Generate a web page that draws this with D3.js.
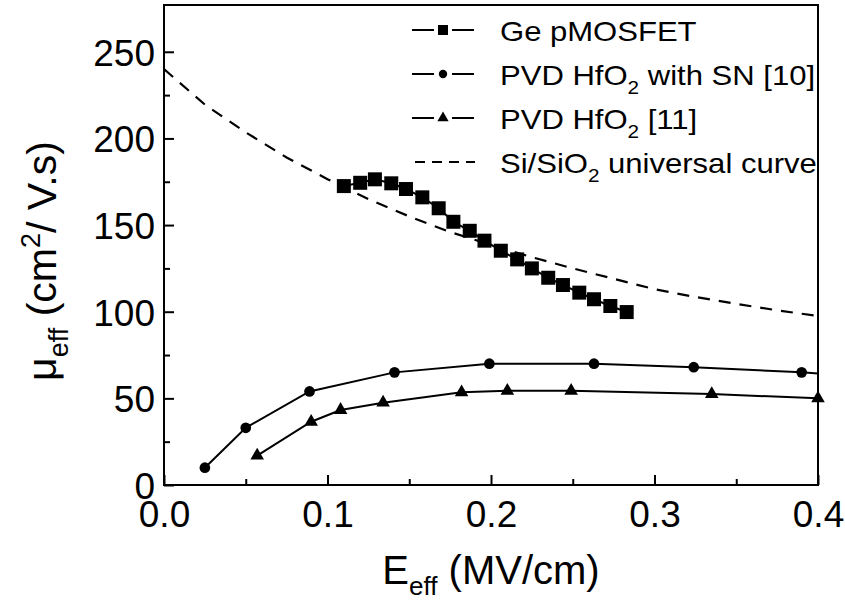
<!DOCTYPE html>
<html>
<head>
<meta charset="UTF-8">
<title>Mobility vs effective field</title>
<script src="https://d3js.org/d3.v7.min.js"></script>
<style>
  body { margin: 0; background: #fff; }
  text { font-family: "Liberation Sans", Arial, sans-serif; fill: #000; }
</style>
</head>
<body>
<div id="chart"></div>
<script>
// data (E_eff in MV/cm, mobility in cm2/V.s)
var geX = [0.110, 0.120, 0.129, 0.139, 0.148, 0.158, 0.168, 0.177, 0.187, 0.196,
           0.206, 0.216, 0.225, 0.235, 0.244, 0.254, 0.263, 0.273, 0.283];
var geY = [172.5, 174.4, 176.4, 174.1, 170.8, 166.0, 159.7, 151.9, 146.7, 141.0,
           135.2, 130.2, 125.0, 119.6, 115.4, 111.0, 107.2, 103.3, 99.8];

var snX = [0.025, 0.050, 0.089, 0.141, 0.199, 0.263, 0.324, 0.390, 0.45];
var snY = [10, 33, 54, 65, 70, 70, 68, 65, 61];

var pvdX = [0.057, 0.090, 0.108, 0.134, 0.182, 0.210, 0.249, 0.335, 0.400];
var pvdY = [17, 36.5, 43.3, 47.5, 53.5, 54.4, 54.4, 52.5, 50];

var uniX = [0, 0.025, 0.05, 0.075, 0.1, 0.125, 0.15, 0.175, 0.2, 0.225, 0.25,
            0.275, 0.3, 0.325, 0.35, 0.375, 0.4];
var uniY = [240, 219.5, 203.5, 189, 176.5, 165, 155, 146, 138.5, 131.5, 125,
            119, 113, 108.5, 104.5, 100.8, 97.5];

var xTicks = [0, 0.1, 0.2, 0.3, 0.4];
var yTicks = [0, 50, 100, 150, 200, 250];

var margin = {top: 5, right: 27, bottom: 115, left: 164},
    outerWidth = 845, outerHeight = 600,
    width = outerWidth - margin.left - margin.right,
    height = outerHeight - margin.top - margin.bottom;

var svg = d3.select("#chart")
    .append("svg")
    .attr("width", outerWidth)
    .attr("height", outerHeight)
    .append("g")
    .attr("transform", `translate(${margin.left}, ${margin.top})`);

var x = d3.scaleLinear().domain([0, 0.4]).range([0, width]);
var y = d3.scaleLinear().domain([0, 277]).range([height, 0]);

svg.append("clipPath").attr("id", "clip")
    .append("rect").attr("width", width).attr("height", height);

// minor ticks (inward)
svg.append("g")
    .attr("transform", `translate(0, ${height})`)
    .call(d3.axisBottom(x).tickValues([0.05, 0.15, 0.25, 0.35]).tickSize(-6).tickFormat(""))
    .call(g => g.select(".domain").remove());
svg.append("g")
    .call(d3.axisLeft(y).tickValues([25, 75, 125, 175, 225]).tickSize(-6).tickFormat(""))
    .call(g => g.select(".domain").remove());

// major ticks
var xAxis = svg.append("g")
    .attr("transform", `translate(0, ${height})`)
    .call(d3.axisBottom(x).tickValues(xTicks).tickSize(-10).tickPadding(15)
        .tickFormat(d3.format(".1f")));
xAxis.select(".domain").remove();
xAxis.selectAll("text").attr("dy", "0.72em").style("font-size", "37px");

var yAxis = svg.append("g")
    .call(d3.axisLeft(y).tickValues(yTicks).tickSize(-10).tickPadding(9));
yAxis.select(".domain").remove();
yAxis.selectAll("text").attr("dy", "0.36em").style("font-size", "37px");

svg.selectAll(".tick line").attr("stroke", "#000").attr("stroke-width", 2);

// frame
svg.append("rect")
    .attr("width", width).attr("height", height)
    .attr("fill", "none").attr("stroke", "#000").attr("stroke-width", 2);

// series
function pts(xs, ys) { return xs.map((d, i) => [d, ys[i]]); }
var line = d3.line().x(d => x(d[0])).y(d => y(d[1]));

var plot = svg.append("g").attr("clip-path", "url(#clip)");

plot.append("path").datum(pts(uniX, uniY))
    .attr("d", line).attr("fill", "none").attr("stroke", "#000")
    .attr("stroke-width", 2.2).attr("stroke-dasharray", "12,9");

plot.append("path").datum(pts(snX, snY))
    .attr("d", line).attr("fill", "none").attr("stroke", "#000").attr("stroke-width", 2);
plot.append("path").datum(pts(pvdX, pvdY))
    .attr("d", line).attr("fill", "none").attr("stroke", "#000").attr("stroke-width", 2);
plot.append("path").datum(pts(geX, geY))
    .attr("d", line).attr("fill", "none").attr("stroke", "#000").attr("stroke-width", 2);

function markers(data, type, size) {
    svg.append("g").selectAll("path")
        .data(data.filter(d => d[0] <= 0.4))
        .enter().append("path")
        .attr("transform", d => `translate(${x(d[0])}, ${y(d[1])})`)
        .attr("d", d3.symbol().type(type).size(size))
        .attr("fill", "#000");
}
markers(pts(snX, snY), d3.symbolCircle, 90);
markers(pts(pvdX, pvdY), d3.symbolTriangle, 80);
markers(pts(geX, geY), d3.symbolSquare, 196);

// legend
var legendItems = [
    {name: ["Ge pMOSFET"], type: d3.symbolSquare, size: 100},
    {name: ["PVD HfO", "2", " with SN [10]"], type: d3.symbolCircle, size: 55},
    {name: ["PVD HfO", "2", " [11]"], type: d3.symbolTriangle, size: 55},
    {name: ["Si/SiO", "2", " universal curve"], type: null}
];
var lg = svg.append("g").attr("transform", `translate(${412 - margin.left}, ${30 - margin.top})`);
legendItems.forEach(function(item, i) {
    var row = lg.append("g").attr("transform", `translate(0, ${i * 44})`);
    if (item.type) {
        row.append("line").attr("x1", 0).attr("x2", 62).attr("y1", 0).attr("y2", 0)
            .attr("stroke", "#000").attr("stroke-width", 2);
        row.append("rect").attr("x", 22).attr("y", -8).attr("width", 18).attr("height", 16)
            .attr("fill", "#fff");
        row.append("path").attr("transform", "translate(31, 0)")
            .attr("d", d3.symbol().type(item.type).size(item.size)).attr("fill", "#000");
    } else {
        row.append("line").attr("x1", 3).attr("x2", 63).attr("y1", 0).attr("y2", 0)
            .attr("stroke", "#000").attr("stroke-width", 2).attr("stroke-dasharray", "10,7");
    }
    // legend lettering is slightly wider than plain Arial
    var t = row.append("text").attr("transform", "translate(88, 11) scale(1.15, 1)")
        .style("font-size", "27px");
    t.append("tspan").text(item.name[0]);
    if (item.name.length > 1) {
        t.append("tspan").attr("dy", 9).style("font-size", "18px").text(item.name[1]);
        t.append("tspan").attr("dy", -9).text(item.name[2]);
    }
});

// axis titles
var xt = svg.append("text")
    .attr("x", width / 2).attr("y", 584 - margin.top)
    .attr("text-anchor", "middle").style("font-size", "40px");
xt.append("tspan").text("E");
xt.append("tspan").attr("dy", 11).style("font-size", "26px").text("eff");
xt.append("tspan").attr("dy", -11).text(" (MV/cm)");

var yt = svg.append("text")
    .attr("transform", `translate(${56 - margin.left}, ${261 - margin.top}) rotate(-90)`)
    .attr("text-anchor", "middle").style("font-size", "41px");
yt.append("tspan").text("\u03bc");
yt.append("tspan").attr("dy", 12).style("font-size", "27px").text("eff");
yt.append("tspan").attr("dy", -12).text(" (cm");
yt.append("tspan").attr("dy", -16).style("font-size", "27px").text("2");
yt.append("tspan").attr("dy", 16).text("/ V.s)");
</script>
</body>
</html>
